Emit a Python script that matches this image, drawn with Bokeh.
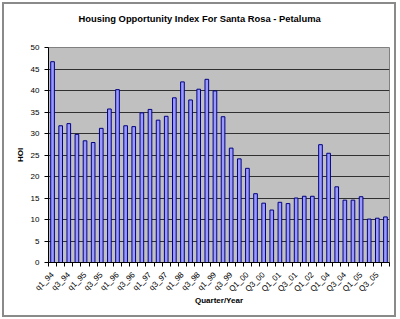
import math
from bokeh.plotting import figure
from bokeh.models import FixedTicker, ColumnDataSource, Title
from bokeh.embed import file_html
from bokeh.resources import INLINE

categories = [
    "q1_94", "q2_94", "q3_94", "q4_94",
    "q1_95", "q2_95", "q3_95", "q4_95",
    "q1_96", "q2_96", "q3_96", "q4_96",
    "q1_97", "q2_97", "q3_97", "q4_97",
    "q1_98", "q2_98", "q3_98", "q4_98",
    "q1_99", "q2_99", "q3_99", "q4_99",
    "Q1_00", "Q2_00", "Q3_00", "Q4_00",
    "Q1_01", "Q2_01", "Q3_01", "Q4_01",
    "Q1_02", "Q4_03",
    "Q1_04", "Q2_04", "Q3_04", "Q4_04",
    "Q1_05", "Q2_05", "Q3_05", "Q4_05",
]
hoi = [
    46.7, 31.8, 32.3, 29.8, 28.3, 27.9, 31.2, 35.7, 40.2, 31.8,
    31.6, 34.8, 35.6, 33.1, 34.0, 38.3, 42.0, 37.8, 40.3, 42.6,
    39.9, 33.9, 26.6, 24.1, 21.9, 16.0, 13.8, 12.2, 14.0, 13.7,
    15.0, 15.4, 15.4, 27.4, 25.4, 17.6, 14.5, 14.5, 15.3, 10.1,
    10.3, 10.6,
]
y_ticks = [0, 5, 10, 15, 20, 25, 30, 35, 40, 45, 50]
title_text = "Housing Opportunity Index For Santa Rosa - Petaluma"
x_title = "Quarter/Year"
y_title = "HOI"

n = len(categories)
pos = list(range(1, n + 1))
src = ColumnDataSource(dict(x=pos, top=hoi, name=categories))

FONT = "Liberation Sans"

p = figure(width=386, height=306, output_backend="svg", toolbar_location=None,
           x_range=(0.5, n + 0.5), y_range=(0, 50),
           min_border_left=44, min_border_right=9, min_border_top=43,
           min_border_bottom=57, title=None)
p.styles = {"border": "2px solid #8a8a8a", "margin": "2px",
            "padding": "0px 4px 5px 0px", "box-sizing": "content-box"}
p.background_fill_color = "#c0c0c0"
p.border_fill_color = "white"
p.outline_line_color = "#808080"
p.outline_line_width = 1

p.vbar(x="x", top="top", width=0.45, source=src, fill_color="#9999ff",
       line_color="#000080", line_width=1)

# spacer (closest to frame) then the visible title above it
p.add_layout(Title(text=" ", text_font_size="1px", standoff=21), "above")
p.add_layout(Title(text=title_text, text_font=FONT, text_font_size="9.4px",
                   text_font_style="bold", text_color="black", align="left",
                   offset=30, standoff=0), "above")

p.xgrid.grid_line_color = None
p.ygrid.grid_line_color = "#303030"
p.ygrid.grid_line_width = 1
p.yaxis.ticker = FixedTicker(ticks=y_ticks)

label_pos = pos[::2]
p.xaxis.ticker = FixedTicker(ticks=label_pos,
                             minor_ticks=[k + 0.5 for k in range(0, n + 1)])
p.xaxis.major_label_overrides = {x: categories[x - 1] for x in label_pos}
p.xaxis.major_label_orientation = math.pi / 4
p.xaxis.major_tick_line_color = None
p.xaxis.minor_tick_in = 0
p.xaxis.minor_tick_out = 4
p.xaxis.minor_tick_line_color = "black"

for ax in (p.xaxis, p.yaxis):
    ax.axis_line_color = "black"
    ax.major_label_text_font = FONT
    ax.major_label_text_font_size = "8px"
    ax.major_label_text_color = "black"
    ax.axis_label_text_font = FONT
    ax.axis_label_text_font_size = "8px"
    ax.axis_label_text_font_style = "bold"
    ax.axis_label_text_color = "black"

p.yaxis.major_tick_in = 0
p.yaxis.major_tick_out = 4
p.yaxis.minor_tick_line_color = None
p.yaxis.major_tick_line_color = "black"
p.xaxis.axis_label = x_title
p.xaxis.axis_label_standoff = -4
p.yaxis.axis_label = y_title
p.yaxis.axis_label_standoff = 3

open("out.html", "w").write(file_html(p, INLINE))
